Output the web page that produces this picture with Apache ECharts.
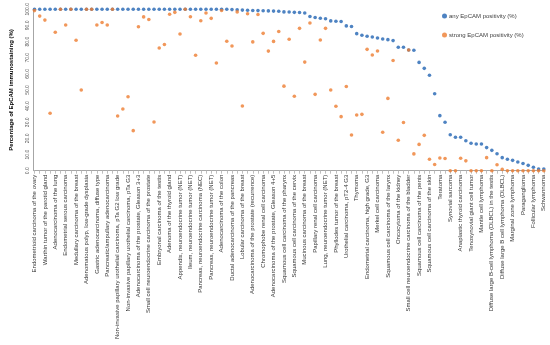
<!DOCTYPE html>
<html>
<head>
<meta charset="utf-8">
<script src="https://cdn.jsdelivr.net/npm/echarts@6/dist/echarts.min.js"></script>
<style>html,body{margin:0;padding:0;background:#fff;}#c{width:550px;height:345px;}</style>
</head>
<body>
<div id="c"></div>
<script>
// Labels shown on the axis (every other tumour category)
var shownLabels = [
  "Endometrioid carcinoma of the ovary",
  "Warthin tumor of the parotid gland",
  "Adenocarcinoma of the lung",
  "Endometrial serous carcinoma",
  "Medullary carcinoma of the breast",
  "Adenomatous polyp, low-grade dysplasia",
  "Gastric adenocarcinoma, diffuse type",
  "Pancreatic/ampullary adenocarcinoma",
  "Non-invasive papillary urothelial carcinoma, pTa G2 low grade",
  "Non-invasive papillary urothelial carcinoma, pTa G3",
  "Adenocarcinoma of the prostate, Gleason 3+3",
  "Small cell neuroendocrine carcinoma of the prostate",
  "Embryonal carcinoma of the testis",
  "Adenoma of the thyroid gland",
  "Appendix, neuroendocrine tumor (NET)",
  "Ileum, neuroendocrine tumor (NET)",
  "Pancreas, neuroendocrine carcinoma (NEC)",
  "Pancreas, neuroendocrine tumor (NET)",
  "Adenocarcinoma of the colon",
  "Ductal adenocarcinoma of the pancreas",
  "Lobular carcinoma of the breast",
  "Adenocarcinoma of the prostate (recurrence)",
  "Chromophobe renal cell carcinoma",
  "Adenocarcinoma of the prostate, Gleason 4+5",
  "Squamous cell carcinoma of the pharynx",
  "Squamous cell carcinoma of the cervix",
  "Mucinous carcinoma of the breast",
  "Papillary renal cell carcinoma",
  "Lung, neuroendocrine tumor (NET)",
  "Phyllodes tumor of the breast",
  "Urothelial carcinoma, pT2-4 G3",
  "Thymoma",
  "Endometrial carcinoma, high grade, G3",
  "Merkel cell carcinoma",
  "Squamous cell carcinoma of the larynx",
  "Oncocytoma of the kidney",
  "Small cell neuroendocrine carcinoma of the bladder",
  "Squamous cell carcinoma of the penis",
  "Squamous cell carcinoma of the skin",
  "Teratoma",
  "Synovial sarcoma",
  "Anaplastic thyroid carcinoma",
  "Tenosynovial giant cell tumor",
  "Mantle cell lymphoma",
  "Diffuse large B-cell lymphoma (DLBCL) in the testis",
  "Diffuse large B cell lymphoma (DLBCL)",
  "Marginal zone lymphoma",
  "Paraganglioma",
  "Follicular lymphoma",
  "Schwannoma"
];

// any EpCAM positivity (%) per category (99 categories)
var anyPositivity = [
  100,100,100,100,100,100,100,100,100,100,
  100,100,100,100,100,100,100,100,100,100,
  100,100,100,100,100,100,100,100,100,100,
  100,100,100,100,100,100,100,100,99.8,99.7,
  99.5,99.4,99.3,99.2,99.1,99.0,98.9,98.8,98.4,98.3,
  98.1,98.0,97.7,95.5,94.9,94.5,94.1,92.8,92.6,92.4,
  89.7,89.3,84.9,83.9,83.3,82.8,82.2,81.6,81.2,80.6,
  76.5,76.5,74.8,74.6,67.1,63.4,59.1,47.7,34.1,30.0,
  22.3,20.7,20.7,18.6,17.0,16.5,16.5,14.3,12.6,10.5,
  8.1,7.1,6.4,5.4,4.5,3.3,2.1,1.0,1.0
];

// strong EpCAM positivity (%) per category
var strongPositivity = [
  99.2,95.8,93.3,35.6,85.8,100,90.3,100,80.8,50.0,
  100,100,90.3,91.8,90.3,100,33.9,38.2,45.8,24.8,
  89.2,95.3,93.7,30.2,76.0,78.2,96.9,98.1,84.7,100,
  95.4,71.5,92.9,97.7,94.4,66.7,99.3,80.2,77.3,98.4,
  40.1,97.2,79.8,96.8,85.1,74.1,80.1,86.2,52.4,81.4,
  46.1,88.2,67.3,91.5,47.3,81.0,88.2,50.0,39.9,33.5,
  52.2,22.1,34.5,34.9,75.2,71.7,74.2,23.8,44.8,68.3,
  18.9,29.9,74.8,10.4,16.3,21.9,7.1,3.8,7.9,7.6,
  0,0,7.7,6.1,0,0,0,8.1,0,3.7,
  0.8,0,0,0,0,0,0,0,0
];

var yTicks = [0,10,20,30,40,50,60,70,80,90,100];

var categories = [];
for (var i = 0; i < anyPositivity.length; i++) {
  categories.push(i % 2 === 0 ? shownLabels[i / 2] : '');
}

var chart = echarts.init(document.getElementById('c'), null, {renderer: 'canvas'});
chart.setOption({
  animation: false,
  backgroundColor: '#ffffff',
  textStyle: {fontFamily: 'Liberation Sans, Arial, sans-serif'},
  legend: {
    orient: 'vertical',
    left: 437,
    top: 8,
    itemGap: 13,
    itemWidth: 5,
    itemHeight: 5,
    icon: 'circle',
    textStyle: {fontSize: 6, color: '#404040', padding: [0, 0, 0, -3]},
    data: ['any EpCAM positivity (%)', 'strong EpCAM positivity (%)']
  },
  grid: {left: 27.3, right: 6.2, top: 9.3, bottom: 174.3, containLabel: false},
  xAxis: {
    type: 'category',
    data: categories,
    boundaryGap: false,
    axisLine: {lineStyle: {color: '#a6a6a6', width: 1}},
    axisTick: {show: true, interval: 0, length: 3, lineStyle: {color: '#bfbfbf'}},
    axisLabel: {
      interval: 1,
      rotate: 90,
      fontSize: 6,
      color: '#333333',
      margin: 4
    },
    splitLine: {show: false}
  },
  yAxis: {
    type: 'value',
    min: yTicks[0],
    max: yTicks[yTicks.length - 1],
    interval: 10,
    offset: 1.5,
    name: 'Percentage of EpCAM immunostaining (%)',
    nameLocation: 'middle',
    nameGap: 19,
    nameTextStyle: {fontSize: 6, fontWeight: 'bold', color: '#000'},
    axisLine: {show: true, lineStyle: {color: '#a6a6a6', width: 1}},
    axisTick: {show: false},
    axisLabel: {
      rotate: 90,
      fontSize: 5,
      color: '#595959',
      margin: 3,
      formatter: function (v) { return v.toFixed(1); }
    },
    splitLine: {show: false}
  },
  series: [
    {
      name: 'any EpCAM positivity (%)',
      type: 'scatter',
      data: anyPositivity,
      symbol: 'circle',
      symbolSize: 3.6,
      itemStyle: {color: '#2264b3'}
    },
    {
      name: 'strong EpCAM positivity (%)',
      type: 'scatter',
      data: strongPositivity,
      symbol: 'circle',
      symbolSize: 3.6,
      itemStyle: {color: '#ee7d31'}
    }
  ]
});
</script>
</body>
</html>
